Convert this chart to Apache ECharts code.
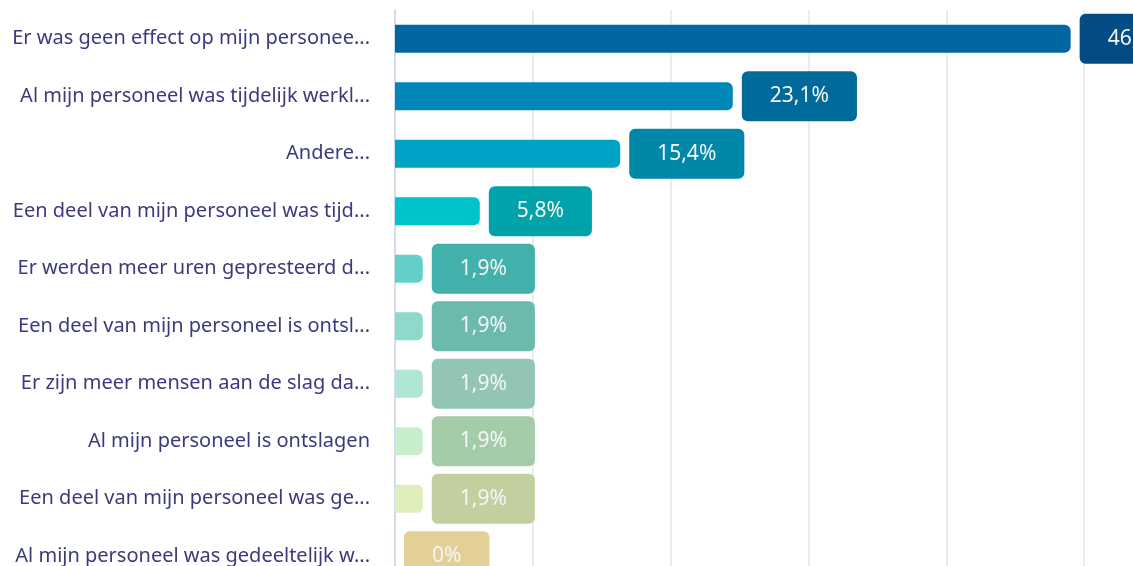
<!DOCTYPE html>
<html>
<head>
<meta charset="utf-8">
<script src="https://cdn.jsdelivr.net/npm/echarts@6/dist/echarts.min.js"></script>
<style>
html,body{margin:0;padding:0;background:#fff;overflow:hidden;width:1133px;height:566px;}
#chart{width:1300px;height:600px;}
</style>
</head>
<body>
<div id="chart"></div>
<script>
const categories = [
  "Er was geen effect op mijn personee...",
  "Al mijn personeel was tijdelijk werkl...",
  "Andere...",
  "Een deel van mijn personeel was tijd...",
  "Er werden meer uren gepresteerd d...",
  "Een deel van mijn personeel is ontsl...",
  "Er zijn meer mensen aan de slag da...",
  "Al mijn personeel is ontslagen",
  "Een deel van mijn personeel was ge...",
  "Al mijn personeel was gedeeltelijk w..."
];
const values = [46.2, 23.1, 15.4, 5.8, 1.9, 1.9, 1.9, 1.9, 1.9, 0];
const barColors = ["#0267a0","#0087b8","#00a3c4","#00c2cb","#63d0c8","#8ddacc","#afe6d5","#c7edcb","#e0eebb","#f3e3a6"];
const labelColors = ["#044c86","#006b9b","#0088a8","#00a3aa","#42b1ab","#6cbaae","#93c6b2","#a5cca9","#c2cf9f","#e2d096"];

const chart = echarts.init(document.getElementById('chart'), null, {renderer: 'canvas'});
chart.setOption({
  animation: false,
  grid: {left: 395, right: 78, top: 10, bottom: 15, containLabel: false},
  xAxis: {
    type: 'value', min: 0, max: 56.55, interval: 9.425,
    axisLabel: {show: false}, axisTick: {show: false}, axisLine: {show: false},
    splitLine: {show: true, lineStyle: {color: '#e6e6ea', width: 1.5}}
  },
  yAxis: {
    type: 'category', data: categories, inverse: true,
    axisTick: {show: false},
    axisLine: {show: true, lineStyle: {color: '#d4dbef', width: 2}},
    axisLabel: {color: '#3b3a7e', fontFamily: 'Noto Sans', fontSize: 20, margin: 25}
  },
  series: [{
    type: 'bar',
    barWidth: 28,
    data: values.map((v, i) => ({
      value: v,
      itemStyle: {color: barColors[i], borderRadius: [0, 6, 6, 0]},
      label: {backgroundColor: labelColors[i]}
    })),
    label: {
      show: true, position: 'right', distance: 9,
      color: '#f4f6f6', fontFamily: 'Noto Sans', fontSize: 21, lineHeight: 26,
      padding: [12, 28], borderRadius: 6,
      formatter: p => String(p.value).replace('.', ',') + '%'
    }
  }]
});
</script>
</body>
</html>
